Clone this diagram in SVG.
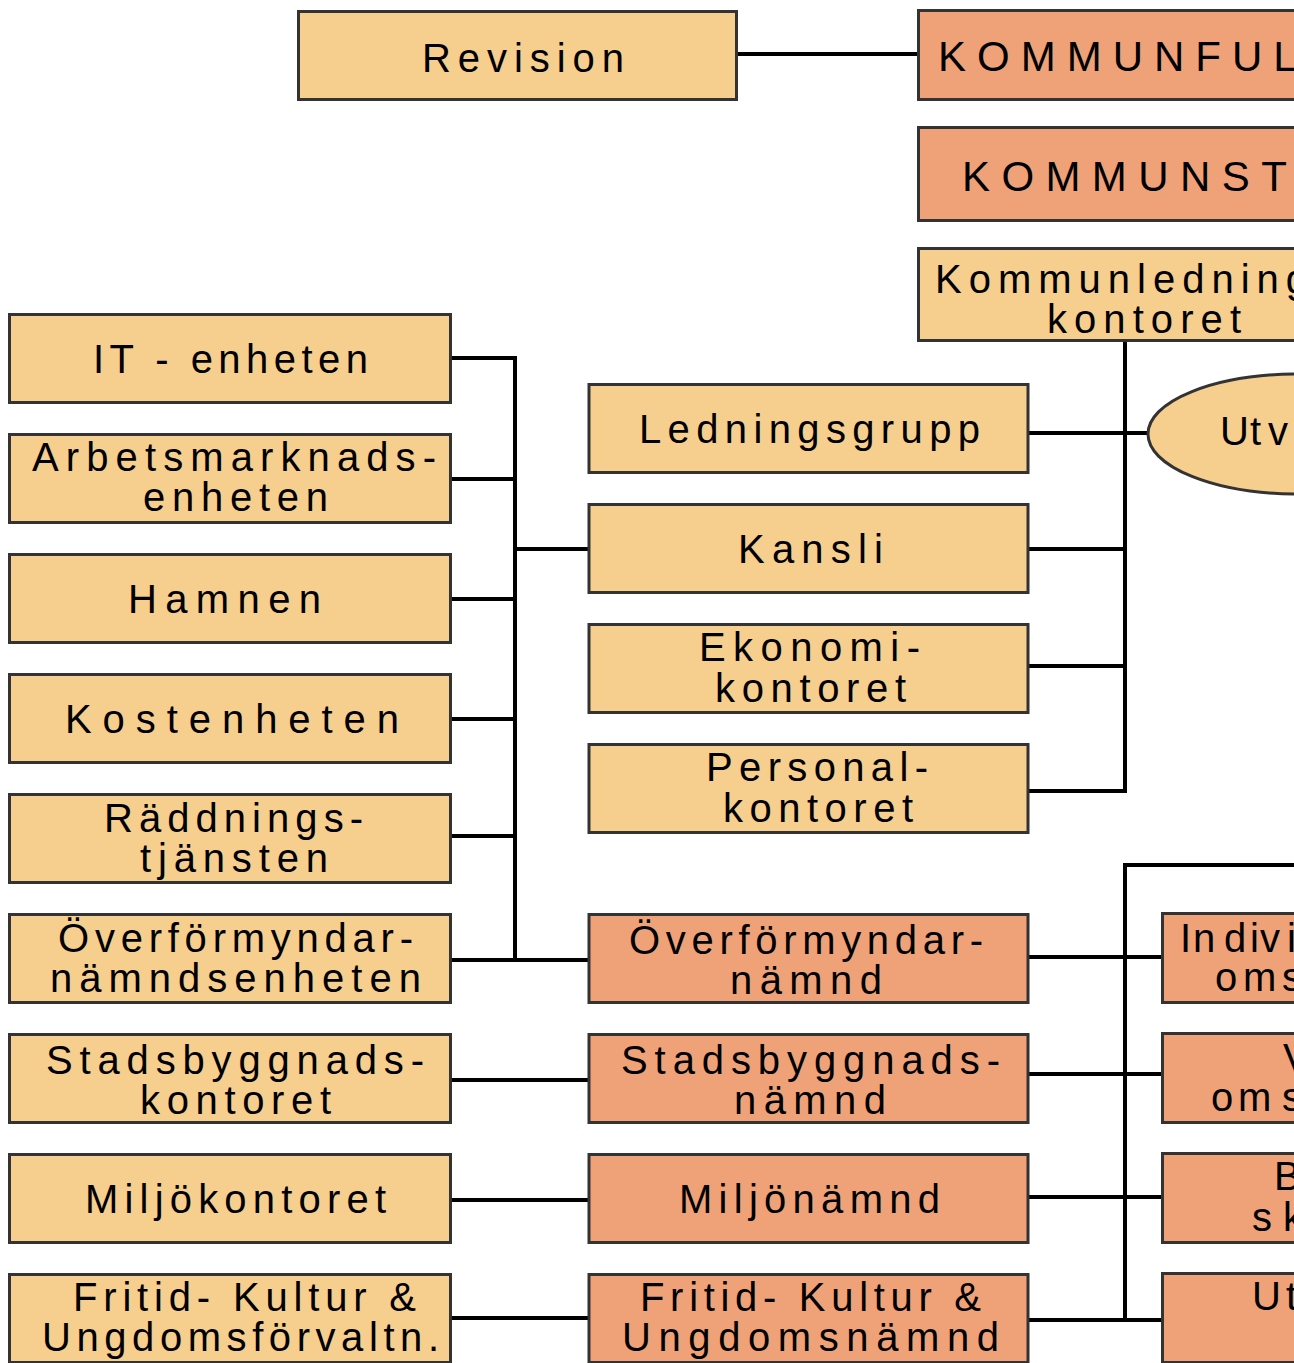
<svg xmlns="http://www.w3.org/2000/svg" width="1294" height="1363" viewBox="0 0 1294 1363">
<style>
  .lt { fill: #F6CE8E; stroke: #333333; stroke-width: 3; }
  .dk { fill: #EFA278; stroke: #333333; stroke-width: 3; }
  .ln { stroke: #000000; stroke-width: 4; fill: none; stroke-linecap: square; }
  text { font-family: "Liberation Sans", Arial, sans-serif; font-size: 40px; fill: #000000; }
  .cap { font-size: 42px; letter-spacing: 11px; }
  .fit { lengthAdjust: spacing; }
</style>
<rect x="0" y="0" width="1294" height="1363" fill="#FFFFFF"/>
<g id="connectors">
  <line class="ln" x1="737" y1="54" x2="918" y2="54"/>
  <line class="ln" x1="515" y1="358" x2="515" y2="960"/>
  <line class="ln" x1="451" y1="358" x2="515" y2="358"/>
  <line class="ln" x1="451" y1="479" x2="515" y2="479"/>
  <line class="ln" x1="451" y1="599" x2="515" y2="599"/>
  <line class="ln" x1="451" y1="719" x2="515" y2="719"/>
  <line class="ln" x1="451" y1="836" x2="515" y2="836"/>
  <line class="ln" x1="451" y1="960" x2="588" y2="960"/>
  <line class="ln" x1="515" y1="549" x2="588" y2="549"/>
  <line class="ln" x1="451" y1="1080" x2="588" y2="1080"/>
  <line class="ln" x1="451" y1="1200" x2="588" y2="1200"/>
  <line class="ln" x1="451" y1="1318" x2="588" y2="1318"/>
  <line class="ln" x1="1125" y1="342" x2="1125" y2="791"/>
  <line class="ln" x1="1029" y1="433" x2="1148" y2="433"/>
  <line class="ln" x1="1029" y1="549" x2="1125" y2="549"/>
  <line class="ln" x1="1029" y1="666" x2="1125" y2="666"/>
  <line class="ln" x1="1029" y1="791" x2="1125" y2="791"/>
  <line class="ln" x1="1125" y1="865" x2="1125" y2="1320"/>
  <line class="ln" x1="1125" y1="865" x2="1294" y2="865"/>
  <line class="ln" x1="1029" y1="957" x2="1162" y2="957"/>
  <line class="ln" x1="1029" y1="1074" x2="1162" y2="1074"/>
  <line class="ln" x1="1029" y1="1197" x2="1162" y2="1197"/>
  <line class="ln" x1="1029" y1="1320" x2="1162" y2="1320"/>
</g>
<g id="revision"><rect class="lt" x="298.5" y="11.5" width="438" height="88"/><text x="422" y="72" textLength="202" lengthAdjust="spacing">Revision</text></g>
<g id="kommunfullmaktige"><rect class="dk" x="918.5" y="10.5" width="440" height="89"/><text class="cap" x="938" y="71">KOMMUNFUL</text></g>
<g id="kommunstyrelse"><rect class="dk" x="918.5" y="127.5" width="440" height="93"/><text class="cap" x="962" y="191" style="letter-spacing:11.4px">KOMMUNST</text></g>
<g id="kommunledningskontoret"><rect class="lt" x="918.5" y="248.5" width="440" height="92"/><text x="935" y="293" style="letter-spacing:7px">Kommunledning</text><text x="1047" y="333" textLength="194" lengthAdjust="spacing">kontoret</text></g>
<g id="utv"><ellipse class="lt" cx="1298" cy="434" rx="150" ry="60"/><text x="1220 1250 1268" y="445">Utv</text></g>

<g id="it-enheten"><rect class="lt" x="9.5" y="314.5" width="441" height="88"/><text x="93" y="373" textLength="275" lengthAdjust="spacing">IT - enheten</text></g>
<g id="arbetsmarknadsenheten"><rect class="lt" x="9.5" y="434.5" width="441" height="88"/><text x="32" y="471" textLength="404" lengthAdjust="spacing">Arbetsmarknads-</text><text x="143" y="511" textLength="185" lengthAdjust="spacing">enheten</text></g>
<g id="hamnen"><rect class="lt" x="9.5" y="554.5" width="441" height="88"/><text x="128" y="613" textLength="193" lengthAdjust="spacing">Hamnen</text></g>
<g id="kostenheten"><rect class="lt" x="9.5" y="674.5" width="441" height="88"/><text x="65" y="733" textLength="334" lengthAdjust="spacing">Kostenheten</text></g>
<g id="raddningstjansten"><rect class="lt" x="9.5" y="794.5" width="441" height="88"/><text x="104" y="832" textLength="259" lengthAdjust="spacing">Räddnings-</text><text x="140" y="872" textLength="188" lengthAdjust="spacing">tjänsten</text></g>
<g id="overformyndarnamndsenheten"><rect class="lt" x="9.5" y="914.5" width="441" height="88"/><text x="58" y="952" textLength="355" lengthAdjust="spacing">Överförmyndar-</text><text x="50" y="992" textLength="371" lengthAdjust="spacing">nämndsenheten</text></g>
<g id="stadsbyggnadskontoret"><rect class="lt" x="9.5" y="1034.5" width="441" height="88"/><text x="46" y="1074" textLength="378" lengthAdjust="spacing">Stadsbyggnads-</text><text x="140" y="1114" textLength="191" lengthAdjust="spacing">kontoret</text></g>
<g id="miljokontoret"><rect class="lt" x="9.5" y="1154.5" width="441" height="88"/><text x="85" y="1213" textLength="301" lengthAdjust="spacing">Miljökontoret</text></g>
<g id="fritidsforvaltning"><rect class="lt" x="9.5" y="1274.5" width="441" height="88"/><text x="73" y="1311" textLength="343" lengthAdjust="spacing">Fritid- Kultur &amp;</text><text x="42" y="1351" textLength="397" lengthAdjust="spacing">Ungdomsförvaltn.</text></g>

<g id="ledningsgrupp"><rect class="lt" x="589" y="384.5" width="439" height="88"/><text x="639" y="443" textLength="341" lengthAdjust="spacing">Ledningsgrupp</text></g>
<g id="kansli"><rect class="lt" x="589" y="504.5" width="439" height="88"/><text x="738" y="563" textLength="145" lengthAdjust="spacing">Kansli</text></g>
<g id="ekonomikontoret"><rect class="lt" x="589" y="624.5" width="439" height="88"/><text x="699" y="661" textLength="221" lengthAdjust="spacing">Ekonomi-</text><text x="715" y="702" textLength="191" lengthAdjust="spacing">kontoret</text></g>
<g id="personalkontoret"><rect class="lt" x="589" y="744.5" width="439" height="88"/><text x="706" y="781" textLength="222" lengthAdjust="spacing">Personal-</text><text x="723" y="822" textLength="190" lengthAdjust="spacing">kontoret</text></g>
<g id="overformyndarnamnd"><rect class="dk" x="589" y="914.5" width="439" height="88"/><text x="629" y="954" textLength="354" lengthAdjust="spacing">Överförmyndar-</text><text x="730" y="994" textLength="152" lengthAdjust="spacing">nämnd</text></g>
<g id="stadsbyggnadsnamnd"><rect class="dk" x="589" y="1034.5" width="439" height="88"/><text x="621" y="1074" textLength="379" lengthAdjust="spacing">Stadsbyggnads-</text><text x="734" y="1114" textLength="152" lengthAdjust="spacing">nämnd</text></g>
<g id="miljonamnd"><rect class="dk" x="589" y="1154.5" width="439" height="88"/><text x="679" y="1213" textLength="261" lengthAdjust="spacing">Miljönämnd</text></g>
<g id="fritidsnamnd"><rect class="dk" x="589" y="1274.5" width="439" height="88"/><text x="640" y="1311" textLength="341" lengthAdjust="spacing">Fritid- Kultur &amp;</text><text x="622" y="1351" textLength="377" lengthAdjust="spacing">Ungdomsnämnd</text></g>

<g id="right-1"><rect class="dk" x="1162.5" y="913.5" width="440" height="89"/><text x="1180 1193 1224 1250 1260 1287" y="952">Indivi</text><text x="1215 1243 1282" y="991">oms</text></g>
<g id="right-2"><rect class="dk" x="1162.5" y="1033.5" width="440" height="89"/><text x="1283" y="1072">V</text><text x="1211 1238 1282" y="1111">oms</text></g>
<g id="right-3"><rect class="dk" x="1162.5" y="1153.5" width="440" height="89"/><text x="1274" y="1190">B</text><text x="1252 1283" y="1231">sk</text></g>
<g id="right-4"><rect class="dk" x="1162.5" y="1273.5" width="440" height="89"/><text x="1252 1286" y="1310">Ut</text></g>
</svg>
